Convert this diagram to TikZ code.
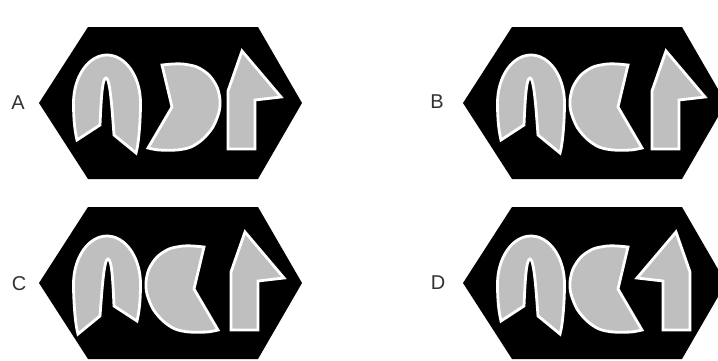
\documentclass[tikz,border=0pt]{standalone}
\usepackage{fontspec}
\setmainfont{Liberation Sans}

\definecolor{piecegray}{RGB}{191,191,191}
\definecolor{labelgray}{RGB}{50,50,50}

\tikzset{
  piece/.style={fill=piecegray, draw=white, line width=2.8pt},
  letter/.style={text=labelgray, font=\fontsize{20}{22}\selectfont},
  % black hexagon, origin at its left corner
  hexagon/.pic={
    \fill[black] (0,0) -- (49,76) -- (219,76) -- (263,0) -- (219,-76) -- (49,-76) -- cycle;
  },
  % arch with a narrow slit from below
  arch/.pic={
    \draw[piece] (-30,-37) .. controls (-33,-25) and (-33.5,-10) .. (-33.5,0)
      arc[start angle=180, end angle=0, x radius=33.5, y radius=48]
      .. controls (33.5,-15) and (32,-40) .. (29,-50)
      -- (7,-32) .. controls (5,-5) and (3,25) .. (-1,25)
      .. controls (-5,25) and (-6,0) .. (-7,-22) -- cycle;
  },
  % disc with a wedge cut out on the right
  pacman/.pic={
    \draw[piece] (21,38) -- (11,-4)
      -- plot[smooth] coordinates {(35,-45) (24,-47) (6,-47) (-8,-44) (-20,-36) (-30,-24) (-36,-9) (-37,3) (-34,16) (-26,28) (-14,36) (0,39) (10,39) (21,38)}
      -- cycle;
  },
  % bar with a half arrow head
  flag/.pic={
    \draw[piece] (-19,-46) -- (-19,12) -- (-5,52) -- (34,6) -- (8,3) -- (8,-46) -- cycle;
  }
}

\begin{document}
\begin{tikzpicture}[x=1pt, y=1pt]
    \clip (0,0) rectangle (718,360);
    \fill[white] (0,0) rectangle (718,360);

    % Panel A (pacman mirrored)
    \begin{scope}[shift={(39,257)}]
        \pic at (0,0) {hexagon};
        \pic at (68,0) {arch};
        \pic[xscale=-1] at (144,0) {pacman};
        \pic at (208,0) {flag};
    \end{scope}
    \node[letter] (labA) at (18,257) {A};

    % Panel B
    \begin{scope}[shift={(463,257)}]
        \pic at (0,0) {hexagon};
        \pic at (68,0) {arch};
        \pic at (144,0) {pacman};
        \pic at (208,0) {flag};
    \end{scope}
    \node[letter] (labB) at (437,258) {B};

    % Panel C (arch mirrored)
    \begin{scope}[shift={(39,77)}]
        \pic at (0,0) {hexagon};
        \pic[xscale=-1] at (68,-1) {arch};
        \pic at (144,-2) {pacman};
        \pic at (211,-1) {flag};
    \end{scope}
    \node[letter] (labC) at (19,76) {C};

    % Panel D (flag mirrored)
    \begin{scope}[shift={(463,77)}]
        \pic at (0,0) {hexagon};
        \pic at (68,-1) {arch};
        \pic at (144,-2) {pacman};
        \pic[xscale=-1] at (208,-1) {flag};
    \end{scope}
    \node[letter] (labD) at (438,77) {D};
\end{tikzpicture}
\end{document}
